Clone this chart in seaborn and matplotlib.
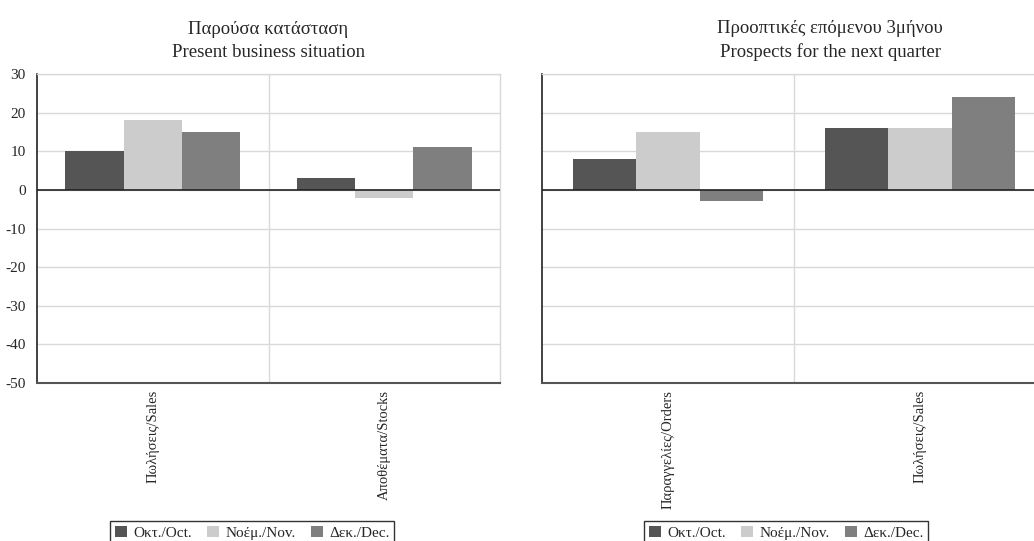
import matplotlib
matplotlib.use("Agg")
import matplotlib.pyplot as plt
import pandas as pd
import seaborn as sns
from matplotlib.patches import Patch

# data
months = ["Οκτ./Oct.", "Νοέμ./Nov.", "Δεκ./Dec."]
colors = ["#555555", "#cccccc", "#7f7f7f"]

present_cats = ["Πωλήσεις/Sales", "Αποθέματα/Stocks"]
present_oct = [10, 3]
present_nov = [18, -2]
present_dec = [15, 11]

prospect_cats = ["Παραγγελίες/Orders", "Πωλήσεις/Sales"]
prospect_oct = [8, 16]
prospect_nov = [15, 16]
prospect_dec = [-3, 24]

yticks = [30, 20, 10, 0, -10, -20, -30, -40, -50]


def long_frame(cats, *series):
    rows = []
    for month, vals in zip(months, series):
        for c, v in zip(cats, vals):
            rows.append({"cat": c, "month": month, "value": v})
    return pd.DataFrame(rows)


sns.set_theme(style="white")
plt.rcParams["font.family"] = ["Liberation Serif", "DejaVu Serif"]
plt.rcParams["axes.unicode_minus"] = False

W, H = 1034, 541
fig = plt.figure(figsize=(W / 100, H / 100), dpi=100)

ax_l = fig.add_axes([37 / W, 1 - 383 / H, (500 - 37) / W, 309 / H])
ax_r = fig.add_axes([542 / W, 1 - 383 / H, (1046 - 542) / W, 309 / H])


def draw(ax, df, cats, title, title_x, show_y):
    sns.barplot(data=df, x="cat", y="value", hue="month", order=cats,
                hue_order=months, palette=colors, width=0.755, gap=0,
                saturation=1, legend=False, ax=ax, zorder=3, linewidth=0)
    ax.set_xlim(-0.5, 1.5)
    ax.set_ylim(-50, 30)
    ax.set_yticks(yticks)
    ax.set_xticks(range(len(cats)))
    ax.set_xticks([0.5], minor=True)
    ax.set_xticklabels(cats, rotation=90, fontsize=10.5, va="top")
    ax.grid(axis="y", which="major", color="#d9d9d9", linewidth=1, zorder=0)
    ax.grid(axis="x", which="minor", color="#d9d9d9", linewidth=1, zorder=0)
    ax.axhline(0, color="#222222", linewidth=1.2, zorder=4)
    ax.tick_params(axis="both", which="both", length=0)
    ax.tick_params(axis="x", pad=5)
    ax.tick_params(axis="y", pad=8, labelsize=11)
    if not show_y:
        ax.set_yticklabels([])
    ax.set_xlabel("")
    ax.set_ylabel("")
    for side in ("top", "right"):
        ax.spines[side].set_color("#d9d9d9")
        ax.spines[side].set_linewidth(1)
    ax.spines["left"].set_color("#222222")
    ax.spines["left"].set_linewidth(1.2)
    ax.spines["bottom"].set_color("#555555")
    ax.spines["bottom"].set_linewidth(1.5)
    ax.set_title(title, x=title_x, fontsize=13.5, linespacing=1.5, pad=12)


draw(ax_l, long_frame(present_cats, present_oct, present_nov, present_dec),
     present_cats, "Παρούσα κατάσταση\nPresent business situation", 0.5, True)
draw(ax_r, long_frame(prospect_cats, prospect_oct, prospect_nov, prospect_dec),
     prospect_cats, "Προοπτικές επόμενου 3μήνου\nProspects for the next quarter",
     (830 - 542) / (1046 - 542), False)

handles = [Patch(facecolor=c, edgecolor="none") for c in colors]
for x0 in (110, 644):
    leg = fig.legend(handles, months, loc="upper left",
                     bbox_to_anchor=(x0 / W, 1 - 521 / H), ncol=3,
                     frameon=True, fancybox=False, fontsize=11,
                     handlelength=0.8, handleheight=0.8, handletextpad=0.4,
                     columnspacing=1.0, borderpad=0.3, borderaxespad=0)
    leg.get_frame().set_edgecolor("#000000")
    leg.get_frame().set_linewidth(1)

fig.savefig("out.png", dpi=100, facecolor="white")
